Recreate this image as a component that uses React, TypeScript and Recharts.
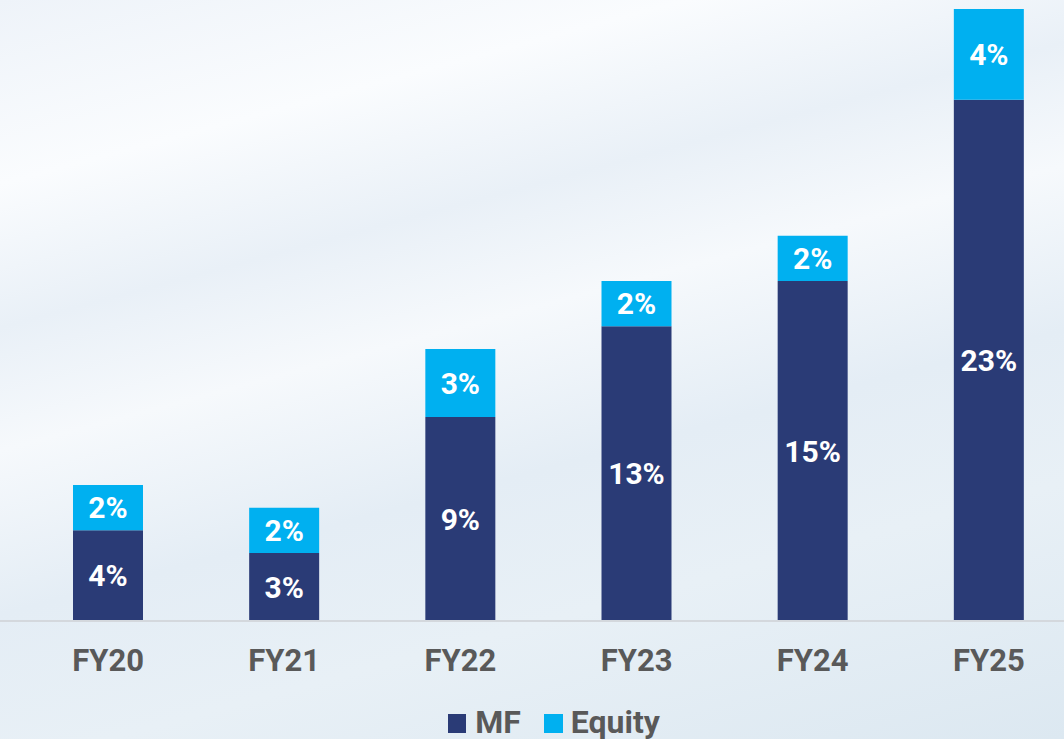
import React from "react";
import { BarChart, Bar, XAxis, YAxis, LabelList, Legend } from "recharts";

const categories = ["FY20", "FY21", "FY22", "FY23", "FY24", "FY25"];
const mfValues = [4, 3, 9, 13, 15, 23];
const equityValues = [2, 2, 3, 2, 2, 4];

const data = categories.map((c, i) => ({ name: c, MF: mfValues[i], Equity: equityValues[i] }));

const MF_COLOR = "#2A3B76";
const EQ_COLOR = "#00B0F0";
const TEXT_GRAY = "#595959";
const FONT = "Roboto, 'Noto Sans', sans-serif";

const LegendContent = () => (
  <div
    style={{
      display: "flex",
      justifyContent: "center",
      alignItems: "center",
      fontFamily: FONT,
      fontWeight: 700,
      fontSize: 32,
      color: TEXT_GRAY,
      lineHeight: "32px",
    }}
  >
    <span style={{ display: "inline-block", width: 18, height: 19, background: MF_COLOR, marginRight: 9, marginTop: 3 }} />
    <span style={{ marginRight: 23 }}>MF</span>
    <span style={{ display: "inline-block", width: 19, height: 19, background: EQ_COLOR, marginRight: 8, marginTop: 3 }} />
    <span>Equity</span>
  </div>
);

export default function App() {
  return (
    <div
      style={{
        position: "absolute",
        left: 0,
        top: 0,
        width: 1064,
        height: 739,
        overflow: "hidden",
        background:
          "linear-gradient(165deg, #eef3f9 0%, #fafcfe 18%, #e9f0f7 32%, #f6f9fc 44%, #e4edf5 60%, #e8f0f6 75%, #dce8f1 100%)",
      }}
    >
      <BarChart
        width={1090}
        height={739}
        data={data}
        margin={{ top: 9, right: 13, bottom: 68, left: 0 }}
        barSize={70}
      >
        <XAxis
          dataKey="name"
          padding={{ left: 20, right: 0 }}
          axisLine={{ stroke: "#d4d8dd", strokeWidth: 2 }}
          tickLine={false}
          height={50}
          tickMargin={22}
          tick={{ fill: TEXT_GRAY, fontSize: 31, fontWeight: 700, fontFamily: FONT }}
          interval={0}
        />
        <YAxis hide domain={[0, 27]} />
        <Legend
          verticalAlign="middle"
          align="center"
          layout="horizontal"
          wrapperStyle={{ top: 706, left: 0, width: 1108 }}
          content={LegendContent}
        />
        <Bar dataKey="MF" stackId="a" fill={MF_COLOR} isAnimationActive={false}>
          <LabelList
            dataKey="MF"
            position="center"
            formatter={(v: number) => `${v}%`}
            fill="#ffffff"
            style={{ fontSize: 30, fontWeight: 700, fontFamily: FONT }}
          />
        </Bar>
        <Bar dataKey="Equity" stackId="a" fill={EQ_COLOR} isAnimationActive={false}>
          <LabelList
            dataKey="Equity"
            position="center"
            formatter={(v: number) => `${v}%`}
            fill="#ffffff"
            style={{ fontSize: 30, fontWeight: 700, fontFamily: FONT }}
          />
        </Bar>
      </BarChart>
    </div>
  );
}
